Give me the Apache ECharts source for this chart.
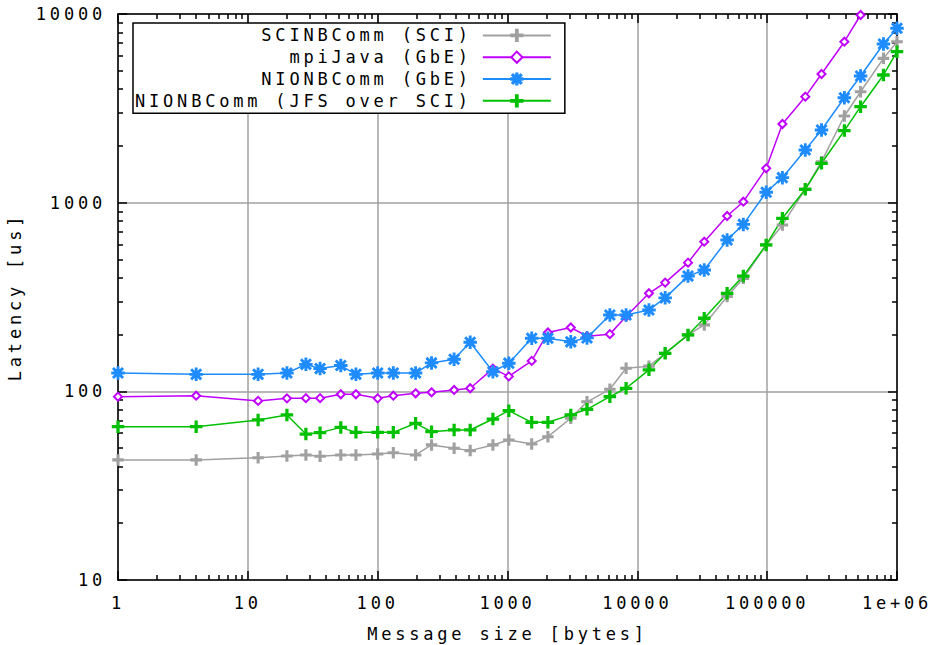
<!DOCTYPE html>
<html>
<head>
<meta charset="utf-8">
<script src="https://cdn.jsdelivr.net/npm/echarts@6/dist/echarts.min.js"></script>
<style>
  html, body { margin: 0; background: #fff; }
  #chart { width: 939px; height: 645px; letter-spacing: 3.8px; }
</style>
</head>
<body>
<div id="chart"></div>
<script>
// message sizes in bytes (x) and latencies in microseconds (y)
const messageSizes = [1, 4, 12, 20, 28, 36, 52, 68, 100, 132, 196, 260, 388, 516, 772, 1024,
  1536, 2048, 3072, 4096, 6144, 8192, 12288, 16384, 24576, 32768, 49152, 65536, 98304,
  131072, 196608, 262144, 393216, 524288, 786432, 1000000];

const sciLatency = [43.3, 43.3, 44.5, 45.4, 46, 45.3, 46, 46, 46.5, 47.3, 46, 52, 49.9, 48.5, 52, 55.2,
  52.6, 57.5, 72, 88, 102.5, 132.5, 136, 159, 199, 225, 318, 397, 597,
  762, 1180, 1649, 2879, 3873, 5820, 7130];

const mpiJavaLatency = [93.7, 94.8, 89, 91.8, 92, 92, 96.5, 96.5, 91.8, 94.8, 97.6, 98.8, 101.7, 103.8, 132, 120,
  145, 205, 218, 196, 201, 249, 331, 377, 481, 621, 850, 1012, 1521,
  2612, 3647, 4806, 7131, 9880, 14500, 19000];

const nioGbeLatency = [125, 123, 123, 125, 139, 132, 137, 123, 125, 125, 125, 141.5, 148, 182, 127, 141,
  191, 191, 183, 192, 254, 254, 270, 313, 408, 440, 634, 767, 1135,
  1357, 1901, 2427, 3600, 4690, 6935, 8400];

const nioJfsLatency = [65, 65, 70.5, 75, 59.4, 60.4, 64.4, 60.6, 60.6, 60.6, 67.7, 61.1, 62.4, 62.4, 71.3, 79,
  68.5, 68.5, 75, 80.3, 93.7, 103.8, 130, 159, 199, 244, 331, 408, 597,
  826, 1177, 1617, 2410, 3226, 4750, 6310];

const seriesNames = ['SCINBComm (SCI)', 'mpiJava (GbE)', 'NIONBComm (GbE)', 'NIONBComm (JFS over SCI)'];
const xTickLabels = ['1', '10', '100', '1000', '10000', '100000', '1e+06'];
const yTickLabels = ['10', '100', '1000', '10000'];

// minor ticks at 2..9 of every decade
function minorTicks(from, to) {
  const out = [];
  for (let d = from; d < to; d *= 10) {
    for (let k = 2; k <= 9; k++) out.push(k * d);
  }
  return out;
}
const xMinor = minorTicks(1, 1e6);
const yMinor = minorTicks(10, 1e4);

const FONT = 'DejaVu Sans Mono';
const LETTER_SPACING = 3.8;
const frame = { color: '#000', width: 1.5 };

// the svg text gets css letter-spacing, so let echarts measure it the same way
const measureCtx = document.createElement('canvas').getContext('2d');
echarts.setPlatformAPI({
  measureText(text, font) {
    measureCtx.font = font || '12px sans-serif';
    const m = measureCtx.measureText(text);
    return {
      width: m.width + LETTER_SPACING * String(text).length,
      actualBoundingBoxAscent: m.actualBoundingBoxAscent,
      actualBoundingBoxDescent: m.actualBoundingBoxDescent,
      actualBoundingBoxLeft: m.actualBoundingBoxLeft,
      actualBoundingBoxRight: m.actualBoundingBoxRight,
      fontBoundingBoxAscent: m.fontBoundingBoxAscent,
      fontBoundingBoxDescent: m.fontBoundingBoxDescent
    };
  }
});

const PLUS = 'path://M4.2,0H5.8V4.2H10V5.8H5.8V10H4.2V5.8H0V4.2H4.2Z';
const STAR = 'path://M5.3,0H6.7V12H5.3Z M0,5.3H12V6.7H0Z M1,2L2,1L11,10L10,11Z M10,1L11,2L2,11L1,10Z';

function majorAxis(pos, min, max, extra) {
  return Object.assign({
    type: 'log', logBase: 10, min, max, position: pos,
    axisLine: { show: true, onZero: false, lineStyle: frame },
    axisTick: { show: true, inside: true, length: 9, lineStyle: frame },
    axisLabel: { show: false },
    splitLine: { show: false }
  }, extra || {});
}

function minorAxis(pos, min, max, values) {
  return {
    type: 'log', logBase: 10, min, max, position: pos,
    axisLine: { show: false },
    axisTick: { show: true, inside: true, length: 5, lineStyle: frame, customValues: values },
    axisLabel: { show: false },
    splitLine: { show: false }
  };
}

const chart = echarts.init(document.getElementById('chart'), null, { renderer: 'svg' });

const lineDefs = [
  { values: sciLatency, color: '#a0a0a0', symbol: PLUS, size: 10 },
  { values: mpiJavaLatency, color: '#c000ff', symbol: 'emptyDiamond', size: 8 },
  { values: nioGbeLatency, color: '#1e8cff', symbol: STAR, size: 12 },
  { values: nioJfsLatency, color: '#00c000', symbol: PLUS, size: 11 }
];

const option = {
  animation: false,
  backgroundColor: '#fff',
  grid: { left: 118, right: 42, top: 14, bottom: 65, outerBoundsMode: 'none' },
  legend: {
    orient: 'vertical', left: 133, top: 23, align: 'right',
    backgroundColor: '#fff', borderColor: '#000', borderWidth: 1.5, borderRadius: 0,
    padding: [2, 13, 2, 2], itemGap: 1, itemWidth: 68, itemHeight: 14,
    textStyle: { fontFamily: FONT, fontSize: 17, color: '#000', padding: [0, 6, 0, 0] },
    // pad to the same length so every icon lines up (text is drawn right-aligned)
    formatter: (name) => name.padStart(24, ' '),
    data: seriesNames
  },
  xAxis: [
    majorAxis('bottom', 1, 1e6, {
      axisLabel: {
        show: true, margin: 13, color: '#000', fontFamily: FONT, fontSize: 17,
        formatter: (v) => xTickLabels[Math.round(Math.log10(v))]
      },
      splitLine: { show: true, lineStyle: { color: '#a0a0a0', width: 1.5 } },
      name: 'Message size [bytes]', nameLocation: 'middle', nameGap: 44,
      nameTextStyle: { fontFamily: FONT, fontSize: 17, color: '#000' }
    }),
    majorAxis('top', 1, 1e6),
    minorAxis('top', 1, 1e6, xMinor),
    minorAxis('bottom', 1, 1e6, xMinor)
  ],
  yAxis: [
    majorAxis('left', 10, 1e4, {
      axisLabel: {
        show: true, margin: 12, color: '#000', fontFamily: FONT, fontSize: 17,
        formatter: (v) => yTickLabels[Math.round(Math.log10(v)) - 1]
      },
      splitLine: { show: true, lineStyle: { color: '#a0a0a0', width: 1.5 } },
      name: 'Latency [us]', nameLocation: 'middle', nameGap: 90,
      nameTextStyle: { fontFamily: FONT, fontSize: 17, color: '#000' }
    }),
    majorAxis('right', 10, 1e4),
    minorAxis('right', 10, 1e4, yMinor),
    minorAxis('left', 10, 1e4, yMinor)
  ],
  series: lineDefs.map((d, i) => ({
    name: seriesNames[i],
    type: 'line',
    xAxisIndex: 0, yAxisIndex: 0,
    data: messageSizes.map((s, j) => [s, d.values[j]]),
    symbol: d.symbol,
    symbolSize: d.size,
    showAllSymbol: true,
    clip: true,
    lineStyle: { color: d.color, width: 1.5 },
    itemStyle: { color: d.color, borderColor: d.color, borderWidth: 1.5 },
    emphasis: { disabled: true }
  }))
};

chart.setOption(option);
</script>
</body>
</html>
